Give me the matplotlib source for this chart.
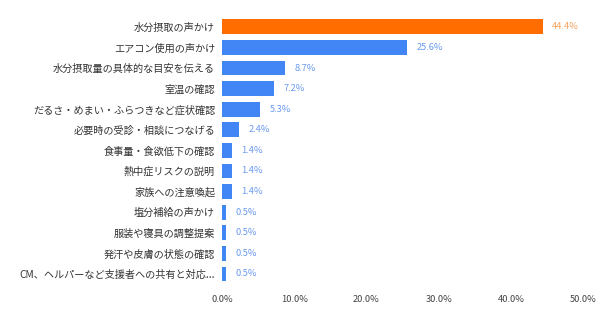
import matplotlib
matplotlib.use("Agg")
import matplotlib.pyplot as plt
from matplotlib.ticker import FuncFormatter

plt.rcParams['font.family'] = ['Noto Sans CJK JP', 'DejaVu Sans']

labels = [
    '水分摂取の声かけ',
    'エアコン使用の声かけ',
    '水分摂取量の具体的な目安を伝える',
    '室温の確認',
    'だるさ・めまい・ふらつきなど症状確認',
    '必要時の受診・相談につなげる',
    '食事量・食欲低下の確認',
    '熱中症リスクの説明',
    '家族への注意喚起',
    '塩分補給の声かけ',
    '服装や寝具の調整提案',
    '発汗や皮膚の状態の確認',
    'CM、ヘルパーなど支援者への共有と対応...',
]
values = [44.4, 25.6, 8.7, 7.2, 5.3, 2.4, 1.4, 1.4, 1.4, 0.5, 0.5, 0.5, 0.5]
ticks = [0, 10, 20, 30, 40, 50]

orange = '#ff6d01'
blue = '#4285f4'
colors = [orange] + [blue] * (len(values) - 1)
text_colors = ['#f5a35f'] + ['#6a9af0'] * (len(values) - 1)

fig = plt.figure(figsize=(6, 3.19), dpi=100)
ax = fig.add_axes([0.37, 0.109, 0.602, 0.839])

y = list(range(len(values)))
ax.barh(y, values, height=0.72, color=colors)
for yi, v, c in zip(y, values, text_colors):
    ax.text(v + 1.3, yi, f'{v:.1f}%', va='center', ha='left', fontsize=6.7, color=c)

ax.set_ylim(len(values) - 0.5, -0.5)
ax.set_xlim(0, 50)
ax.set_yticks(y)
ax.set_yticklabels(labels, fontsize=7.3, color='#333333')
ax.set_xticks(ticks)
ax.xaxis.set_major_formatter(FuncFormatter(lambda x, p: f'{x:.1f}%'))
ax.tick_params(axis='x', labelsize=6.7, colors='#444444', length=0, pad=8)
ax.tick_params(axis='y', length=0, pad=5)
for s in ax.spines.values():
    s.set_visible(False)

fig.savefig('out.png', dpi=100)
